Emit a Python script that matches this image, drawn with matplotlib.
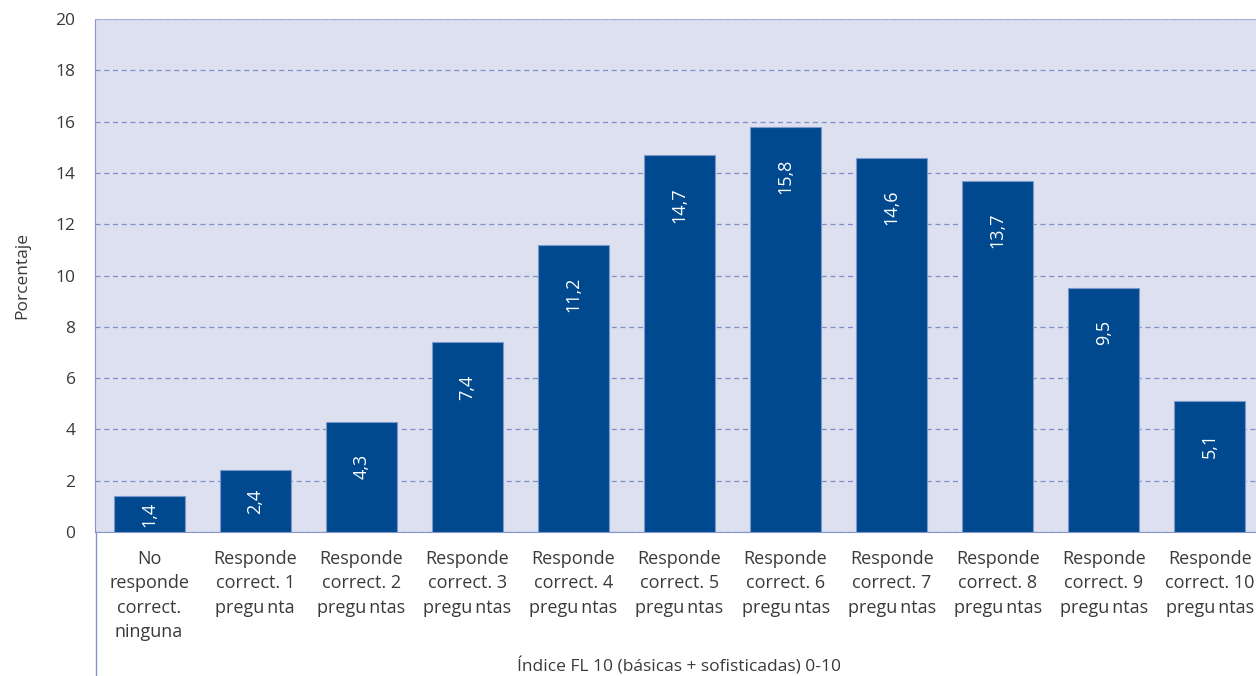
import matplotlib.pyplot as plt
from matplotlib.lines import Line2D

categories = [
    "No\nresponde\ncorrect.\nninguna",
    "Responde\ncorrect. 1\npregu\u2009nta",
    "Responde\ncorrect. 2\npregu\u2009ntas",
    "Responde\ncorrect. 3\npregu\u2009ntas",
    "Responde\ncorrect. 4\npregu\u2009ntas",
    "Responde\ncorrect. 5\npregu\u2009ntas",
    "Responde\ncorrect. 6\npregu\u2009ntas",
    "Responde\ncorrect. 7\npregu\u2009ntas",
    "Responde\ncorrect. 8\npregu\u2009ntas",
    "Responde\ncorrect. 9\npregu\u2009ntas",
    "Responde\ncorrect. 10\npregu\u2009ntas",
]
values = [1.4, 2.4, 4.3, 7.4, 11.2, 14.7, 15.8, 14.6, 13.7, 9.5, 5.1]
yticks = [0, 2, 4, 6, 8, 10, 12, 14, 16, 18, 20]

BAR = "#00498f"
BAR_EDGE = "#7d98cf"
BG = "#dde0ef"
GRID = "#7f8ec8"
TXT = "#3a3a3a"

plt.rcParams["font.family"] = ["Open Sans", "DejaVu Sans"]

fig = plt.figure(figsize=(12.56, 6.76), dpi=100)
ax = fig.add_axes([95 / 1256, 144 / 676, 1168 / 1256, 513 / 676])
ax.set_facecolor(BG)

x = list(range(len(values)))
ax.bar(x, values, width=0.67, color=BAR, edgecolor=BAR_EDGE, linewidth=0.8, zorder=3)

ax.set_xlim(-0.51, 10.5)
ax.set_ylim(0, 20)

# value labels sit near the top of each bar, short bars get them centred
px_per_unit = ax.get_position().height * fig.get_figheight() * fig.dpi / 20
for xi, v in zip(x, values):
    txt = f"{v:.1f}".replace(".", ",")
    if v * px_per_unit < 80:
        ax.text(xi, v / 2, txt, rotation=90, ha="center", va="center",
                color="white", fontsize=13, zorder=4)
    else:
        ax.annotate(txt, (xi, v), xytext=(0, -23), textcoords="offset points",
                    rotation=90, ha="center", va="top", color="white",
                    fontsize=13, zorder=4)

ax.set_yticks(yticks)
ax.set_yticklabels([str(t) for t in yticks], fontsize=12.5, color=TXT)
ax.set_xticks(x)
ax.set_xticklabels(categories, fontsize=13, color=TXT, linespacing=1.45)
ax.tick_params(axis="y", length=0, pad=14)
ax.tick_params(axis="x", length=0, pad=13)

ax.yaxis.grid(True, linestyle=(0, (4, 3)), color=GRID, linewidth=0.9, zorder=1)
ax.set_axisbelow(True)

ax.spines["right"].set_visible(False)
ax.spines["top"].set_color("#a9b3da")
ax.spines["bottom"].set_color("#8594cc")
ax.spines["left"].set_color("#8594cc")

# left axis line keeps going under the category labels
fig.add_artist(Line2D([95.5 / 1256, 95.5 / 1256], [0, 144 / 676],
                      color="#8594cc", linewidth=1))

ax.set_ylabel("Porcentaje", fontsize=12.5, color=TXT, labelpad=18)
fig.text(679 / 1256, 1 / 676, "Índice FL 10 (básicas + sofisticadas) 0-10",
         ha="center", va="bottom", fontsize=12.5, color=TXT)

fig.savefig("out.png", dpi=100)
